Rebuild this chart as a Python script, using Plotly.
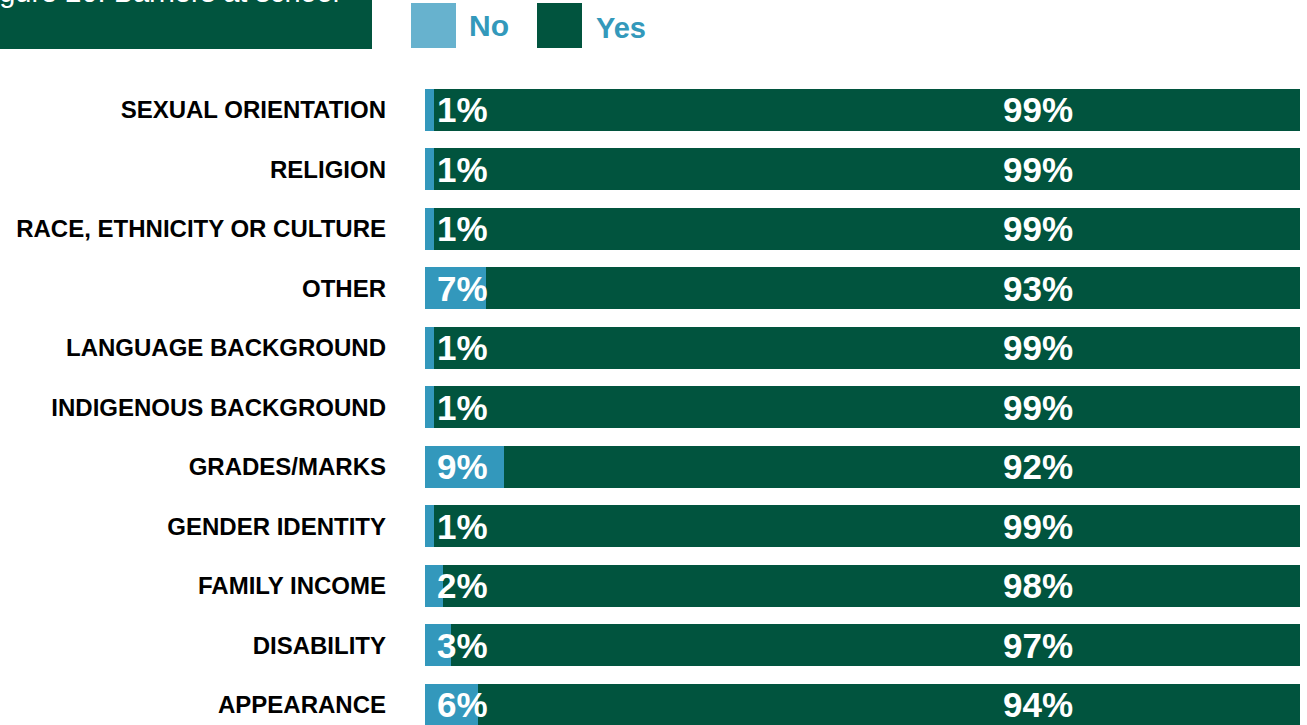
import plotly.graph_objects as go

# Survey categories, top to bottom
categories = [
    "SEXUAL ORIENTATION",
    "RELIGION",
    "RACE, ETHNICITY OR CULTURE",
    "OTHER",
    "LANGUAGE BACKGROUND",
    "INDIGENOUS BACKGROUND",
    "GRADES/MARKS",
    "GENDER IDENTITY",
    "FAMILY INCOME",
    "DISABILITY",
    "APPEARANCE",
]
no_pct = [1, 1, 1, 7, 1, 1, 9, 1, 2, 3, 6]
yes_pct = [99, 99, 99, 93, 99, 99, 92, 99, 98, 97, 94]

title_text = "Figure 20: Barriers at school"

BLUE = "#3398BC"
BLUE_LIGHT = "#67B2CE"
GREEN = "#01543E"
LEGEND_TEXT = "#3399BB"
FONT = "Liberation Sans, Arial, sans-serif"

W, H = 1307, 725
ML, MR, MT, MB = 425, 7, 80, 0
pw, ph = W - ML - MR, H - MT - MB


def px_x(p):
    return (p - ML) / pw


def px_y(p):
    return 1 - (p - MT) / ph


fig = go.Figure()
fig.add_trace(go.Bar(
    y=categories, x=no_pct, name="No", orientation="h",
    marker=dict(color=BLUE, line=dict(width=0)), hoverinfo="skip",
))
fig.add_trace(go.Bar(
    y=categories, x=yes_pct, name="Yes", orientation="h",
    marker=dict(color=GREEN, line=dict(width=0)), hoverinfo="skip",
))

annotations = []
for cat, n, y in zip(categories, no_pct, yes_pct):
    annotations.append(dict(
        x=0, y=cat, xref="x", yref="y", text=f"<b>{n}%</b>",
        xanchor="left", yanchor="middle", xshift=10, yshift=0, showarrow=False,
        font=dict(family=FONT, size=35, color="white"),
    ))
    annotations.append(dict(
        x=70, y=cat, xref="x", yref="y", text=f"<b>{y}%</b>",
        xanchor="center", yanchor="middle", showarrow=False,
        font=dict(family=FONT, size=35, color="white"),
    ))

# Title banner (top left), partly above the page edge
annotations.append(dict(
    xref="paper", yref="paper", x=0, y=1, xanchor="left", yanchor="bottom",
    xshift=-452, yshift=70, text=title_text, showarrow=False,
    font=dict(family=FONT, size=29, color="white"),
))
# Hand-built legend labels
annotations.append(dict(
    xref="paper", yref="paper", x=0, y=1, xanchor="left", yanchor="middle",
    xshift=467 - ML, yshift=MT - 25, text="<b>No</b>", showarrow=False,
    font=dict(family=FONT, size=30, color=LEGEND_TEXT),
))
annotations.append(dict(
    xref="paper", yref="paper", x=0, y=1, xanchor="left", yanchor="middle",
    xshift=594 - ML, yshift=MT - 28, text="<b>Yes</b>", showarrow=False,
    font=dict(family=FONT, size=29, color=LEGEND_TEXT),
))

shapes = [
    dict(type="rect", xref="paper", yref="paper", layer="below",
         x0=px_x(0), x1=px_x(372), y0=px_y(0), y1=px_y(49),
         fillcolor=GREEN, line=dict(width=0)),
    dict(type="rect", xref="paper", yref="paper",
         x0=px_x(411), x1=px_x(456), y0=px_y(3), y1=px_y(48),
         fillcolor=BLUE_LIGHT, line=dict(width=0)),
    dict(type="rect", xref="paper", yref="paper",
         x0=px_x(537), x1=px_x(582), y0=px_y(3), y1=px_y(48),
         fillcolor=GREEN, line=dict(width=0)),
]

fig.update_layout(
    width=W, height=H,
    margin=dict(l=ML, r=MR, t=MT, b=MB, pad=0),
    barmode="stack", bargap=0.294,
    showlegend=False,
    plot_bgcolor="white", paper_bgcolor="white",
    shapes=shapes, annotations=annotations,
    xaxis=dict(range=[0, 100], visible=False, fixedrange=True),
    yaxis=dict(
        type="category", categoryorder="array", categoryarray=categories,
        range=[10.34, -0.5], showgrid=False, zeroline=False, showline=False,
        ticks="", ticklabelstandoff=38,
        tickfont=dict(family=FONT, size=24, color="black", weight="bold"),
        fixedrange=True,
    ),
)

fig.write_html("out.html", config={"displayModeBar": False})
